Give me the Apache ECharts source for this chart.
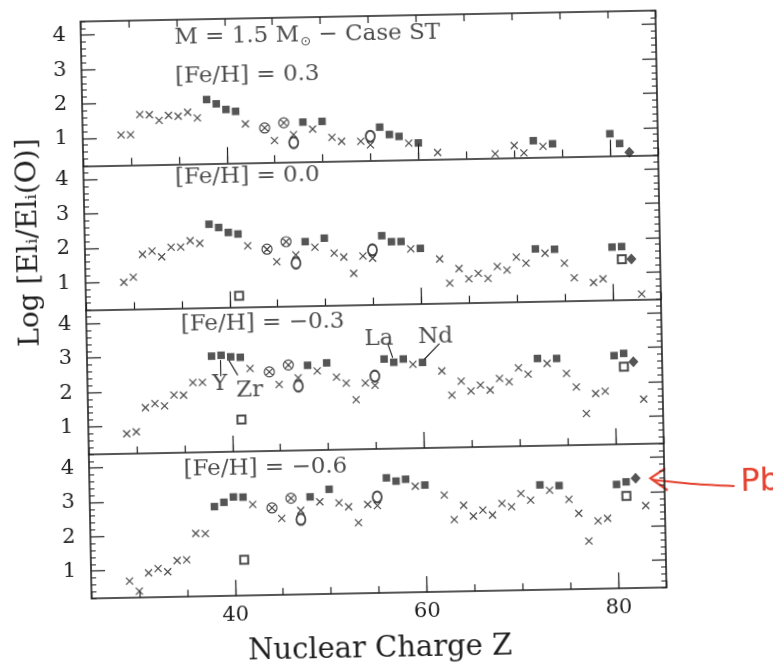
<!DOCTYPE html>
<html><head><meta charset="utf-8">
<script src="https://cdn.jsdelivr.net/npm/echarts@6/dist/echarts.min.js"></script>
<style>
html,body{margin:0;padding:0;background:#fff;}
#chart{width:773px;height:669px;transform:rotate(-1.1deg);transform-origin:373px 305px;}
</style></head><body><div id="chart"></div>
<script>
// ---------- data ----------
const zRange = [25, 85];
const vRange = [0.2, 4.4];
const xTickLabels = [40, 60, 80];
const yTickLabels = [1, 2, 3, 4];
const xTitle = 'Nuclear Charge Z';
const yTitle = 'Log [El\u1D62/El\u1D62(O)]';
const modelTitle = '{a|M = 1.5 M}{s|\u2299}{a| \u2212 Case ST}';
const panelFeH = ['[Fe/H] = 0.3', '[Fe/H] = 0.0', '[Fe/H] = \u22120.3', '[Fe/H] = \u22120.6'];
const elementNames = ['Y', 'Zr', 'La', 'Nd'];

// panel 1 : [Fe/H] = 0.3
const p1Cross = [[29,1.08],[30,1.08],[31,1.66],[32,1.65],[33,1.48],[34,1.62],[35,1.59],[36,1.70],[37,1.53],[42,1.33],[45,0.83],[47,0.99],[49,1.14],[51,0.89],[52,0.77],[54,0.76],[55,0.65],[59,0.68],[62,0.39],[68,0.32],[70,0.55],[71,0.33],[73,0.51]];
const p1Square = [[38,2.06],[39,1.93],[40,1.76],[41,1.70],[48,1.35],[50,1.36],[56,1.16],[57,0.94],[58,0.88],[60,0.68],[72,0.68],[74,0.58],[80,0.84],[81,0.55]];
const p1Circle = [[47,0.76],[55,0.90]];
const p1CircleX = [[44,1.20],[46,1.34]];
const p1OpenSquare = [];
const p1Diamond = [[82,0.29]];

// panel 2 : [Fe/H] = 0.0
const p2Cross = [[29,0.99],[30,1.13],[31,1.79],[32,1.88],[33,1.71],[34,1.98],[35,1.98],[36,2.16],[37,2.08],[42,1.98],[45,1.50],[47,1.69],[49,1.90],[51,1.72],[52,1.60],[53,1.12],[54,1.62],[55,1.55],[59,1.80],[62,1.49],[63,0.78],[64,1.20],[65,0.90],[66,1.05],[67,0.90],[68,1.24],[69,1.13],[70,1.50],[71,1.32],[73,1.60],[75,1.30],[76,0.87],[78,0.72],[79,0.82],[83,0.36]];
const p2Square = [[38,2.63],[39,2.53],[40,2.38],[41,2.33],[48,2.07],[50,2.16],[56,2.20],[57,2.02],[58,2.02],[60,1.81],[72,1.73],[74,1.71],[80,1.74],[81,1.75]];
const p2Circle = [[47,1.45],[55,1.79]];
const p2CircleX = [[44,1.87],[46,2.08]];
const p2OpenSquare = [[41,0.53],[81,1.38]];
const p2Diamond = [[82,1.38]];

// panel 3 : [Fe/H] = -0.3
const p3Cross = [[29,0.78],[30,0.83],[31,1.53],[32,1.64],[33,1.57],[34,1.88],[35,1.87],[36,2.23],[37,2.23],[42,2.61],[45,2.13],[47,2.31],[49,2.50],[51,2.31],[52,2.13],[53,1.64],[54,2.12],[55,2.05],[59,2.64],[62,2.43],[63,1.72],[64,2.12],[65,1.83],[66,2.00],[67,1.85],[68,2.18],[69,2.08],[70,2.48],[71,2.29],[73,2.59],[75,2.29],[76,1.89],[77,1.11],[78,1.69],[79,1.75],[83,1.50]];
const p3Square = [[38,2.99],[39,3.01],[40,2.96],[41,2.94],[48,2.67],[50,2.73],[56,2.81],[57,2.71],[58,2.80],[60,2.69],[72,2.74],[74,2.73],[80,2.78],[81,2.84]];
const p3Circle = [[47,2.07],[55,2.32]];
const p3CircleX = [[44,2.50],[46,2.69]];
const p3OpenSquare = [[41,1.13],[81,2.45]];
const p3Diamond = [[82,2.59]];

// panel 4 : [Fe/H] = -0.6
const p4Cross = [[29,0.69],[30,0.39],[31,0.92],[32,1.04],[33,0.94],[34,1.26],[35,1.28],[36,2.04],[37,2.03],[42,2.85],[45,2.43],[47,2.65],[49,2.89],[51,2.85],[52,2.73],[53,2.26],[54,2.79],[55,2.75],[59,3.29],[62,3.02],[63,2.30],[64,2.71],[65,2.39],[66,2.56],[67,2.41],[68,2.74],[69,2.64],[70,3.02],[71,2.82],[73,3.10],[75,2.82],[76,2.41],[77,1.60],[78,2.18],[79,2.25],[83,2.60]];
const p4Square = [[38,2.81],[39,2.93],[40,3.08],[41,3.07],[48,3.04],[50,3.25],[56,3.55],[57,3.45],[58,3.50],[60,3.32],[72,3.26],[74,3.23],[80,3.23],[81,3.30]];
const p4Circle = [[47,2.39],[55,3.00]];
const p4CircleX = [[44,2.74],[46,3.01]];
const p4OpenSquare = [[41,1.25],[81,2.89]];
const p4Diamond = [[82,3.40]];

// ---------- chart ----------
const panels = [
  {cross:p1Cross, square:p1Square, circle:p1Circle, circleX:p1CircleX, openSquare:p1OpenSquare, diamond:p1Diamond},
  {cross:p2Cross, square:p2Square, circle:p2Circle, circleX:p2CircleX, openSquare:p2OpenSquare, diamond:p2Diamond},
  {cross:p3Cross, square:p3Square, circle:p3Circle, circleX:p3CircleX, openSquare:p3OpenSquare, diamond:p3Diamond},
  {cross:p4Cross, square:p4Square, circle:p4Circle, circleX:p4CircleX, openSquare:p4OpenSquare, diamond:p4Diamond}
];

const FONT = 'DejaVu Serif';
const INK = '#1e1e1e';
const FILL = '#2b2b2b';
const GRID_LEFT = 86, GRID_TOP = 16, GRID_W = 575, PANEL_H = 144.3;

const minorY = [];
for (let k = 2; k <= 44; k += 2) minorY.push(k / 10);

const MARK = {
  cross: {symbol:'path://M0,0L10,10M10,0L0,10', size:7, style:{color:'rgba(0,0,0,0)', borderColor:INK, borderWidth:1.2}},
  square: {symbol:'rect', size:7.5, style:{color:FILL}},
  circle: {symbol:'emptyCircle', size:[9,11], style:{color:INK, borderWidth:1.2}},
  circleX: {symbol:'path://M0,10A10,10,0,1,1,20,10A10,10,0,1,1,0,10ZM3,3L17,17M17,3L3,17', size:10, style:{color:'rgba(0,0,0,0)', borderColor:INK, borderWidth:1.2}},
  openSquare: {symbol:'emptyRect', size:8, style:{color:INK, borderWidth:1.1}},
  diamond: {symbol:'diamond', size:[10,11], style:{color:FILL}}
};

const grids = [], xAxes = [], yAxes = [], series = [];
const axisLine = {show:true, onZero:false, lineStyle:{color:INK, width:1.6}};
const tickStyle = {color:INK, width:1.2};
const richText = {
  a:{fontFamily:FONT, fontSize:23, color:INK},
  s:{fontFamily:'DejaVu Sans', fontSize:13, color:INK, padding:[14,0,0,1]},
  e:{fontFamily:FONT, fontSize:23, color:INK}
};

panels.forEach((p, i) => {
  grids.push({left:GRID_LEFT, top:GRID_TOP + i*PANEL_H, width:GRID_W, height:PANEL_H});
  const isBottom = i === 3;
  const xMain = xAxes.length;
  xAxes.push({gridIndex:i, type:'value', min:zRange[0], max:zRange[1], interval:5, position:'bottom',
    axisLine, axisTick:{show:true, inside:true, length:7, lineStyle:tickStyle},
    axisLabel:{show:isBottom, customValues:xTickLabels, margin:9, fontFamily:FONT, fontSize:21, color:INK},
    splitLine:{show:false},
    name: isBottom ? xTitle : '', nameLocation:'middle', nameGap:42,
    nameTextStyle:{fontFamily:FONT, fontSize:29, color:INK}});
  xAxes.push({gridIndex:i, type:'value', min:zRange[0], max:zRange[1], position:'bottom',
    axisLine:{show:false}, axisTick:{show:true, inside:true, length:16, customValues:xTickLabels, lineStyle:tickStyle},
    axisLabel:{show:false}, splitLine:{show:false}});
  if (i === 0) {
    xAxes.push({gridIndex:i, type:'value', min:zRange[0], max:zRange[1], interval:5, position:'top',
      axisLine, axisTick:{show:true, inside:true, length:7, lineStyle:tickStyle},
      axisLabel:{show:false}, splitLine:{show:false}});
  }
  const yMain = yAxes.length;
  yAxes.push({gridIndex:i, type:'value', min:vRange[0], max:vRange[1], position:'left',
    axisLine, axisTick:{show:true, inside:true, length:14, customValues:yTickLabels, lineStyle:tickStyle},
    axisLabel:{show:true, customValues:yTickLabels, margin:15, fontFamily:FONT, fontSize:21, color:INK},
    splitLine:{show:false}});
  yAxes.push({gridIndex:i, type:'value', min:vRange[0], max:vRange[1], position:'left',
    axisLine:{show:false}, axisTick:{show:true, inside:true, length:5, customValues:minorY, lineStyle:{color:INK, width:1}},
    axisLabel:{show:false}, splitLine:{show:false}});
  yAxes.push({gridIndex:i, type:'value', min:vRange[0], max:vRange[1], position:'right',
    axisLine, axisTick:{show:true, inside:true, length:14, customValues:yTickLabels, lineStyle:tickStyle},
    axisLabel:{show:false}, splitLine:{show:false}});
  yAxes.push({gridIndex:i, type:'value', min:vRange[0], max:vRange[1], position:'right',
    axisLine:{show:false}, axisTick:{show:true, inside:true, length:5, customValues:minorY, lineStyle:{color:INK, width:1}},
    axisLabel:{show:false}, splitLine:{show:false}});

  Object.keys(MARK).forEach(key => {
    const m = MARK[key];
    series.push({type:'scatter', name:key + (i+1), xAxisIndex:xMain, yAxisIndex:yMain,
      symbol:m.symbol, symbolSize:m.size, itemStyle:m.style, data:p[key],
      silent:true, emphasis:{disabled:true}, z:5});
  });

  // panel titles (left-aligned at their anchor)
  const titles = [];
  if (i === 0) {
    titles.push({value:[34.7, 3.88], name:modelTitle});
    titles.push({value:[34.7, 2.75], name:'{a|' + panelFeH[0] + '}'});
  } else {
    const pos = [[34.5, 3.99], [34.8, 3.91], [34.8, 3.91]][i-1];
    titles.push({value:pos, name:'{a|' + panelFeH[i] + '}'});
  }
  series.push({type:'scatter', name:'title' + (i+1), xAxisIndex:xMain, yAxisIndex:yMain,
    symbolSize:1, itemStyle:{color:'rgba(0,0,0,0)'}, silent:true, data:titles,
    label:{show:true, position:'right', distance:0, formatter:d => d.name, rich:richText}});

  if (i === 2) {
    const lp = [[38.8,2.17],[41.9,1.98],[55.5,3.41],[61.4,3.43]];
    series.push({type:'scatter', name:'elements', xAxisIndex:xMain, yAxisIndex:yMain,
      symbolSize:1, itemStyle:{color:'rgba(0,0,0,0)'}, silent:true,
      data:elementNames.map((n, k) => ({value:lp[k], name:n})),
      label:{show:true, position:'inside', formatter:d => d.name, fontFamily:FONT, fontSize:23, color:INK},
      markLine:{silent:true, symbol:['none','none'], label:{show:false},
        lineStyle:{color:INK, width:1.1, type:'solid'},
        data:[
          [{coord:[38.9,2.87]},{coord:[38.9,2.40]}],
          [{coord:[39.8,2.86]},{coord:[40.7,2.42]}],
          [{coord:[56.4,3.26]},{coord:[56.9,2.84]}],
          [{coord:[61.8,3.23]},{coord:[60.2,2.78]}]
        ]}
    });
  }
});

const chart = echarts.init(document.getElementById('chart'), null, {renderer:'canvas'});
chart.setOption({
  animation:false,
  backgroundColor:'#ffffff',
  grid:grids, xAxis:xAxes, yAxis:yAxes, series,
  graphic:[
    {type:'text', x:31, y:236, rotation:Math.PI/2,
      style:{text:yTitle, fontFamily:FONT, fontSize:28, fill:INK, align:'center', verticalAlign:'middle'}},
    {type:'polyline', shape:{points:[[662,474],[647,483.5],[664,496]]},
      style:{stroke:'#e5412e', lineWidth:2.2, fill:null}},
    {type:'polyline', shape:{points:[[649,485],[690,490],[731,493]], smooth:0.3},
      style:{stroke:'#e5412e', lineWidth:2.2, fill:null}},
    {type:'text', x:737, y:490,
      style:{text:'Pb', fontFamily:'DejaVu Sans', fontSize:32, fill:'#e5412e', align:'left', verticalAlign:'middle'}}
  ]
});
</script></body></html>
